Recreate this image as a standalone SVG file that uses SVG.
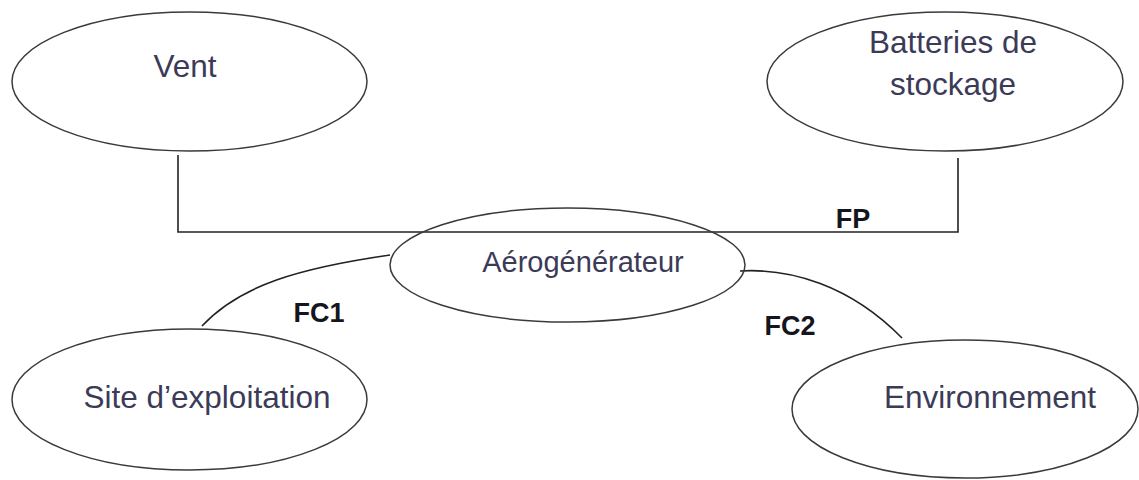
<svg xmlns="http://www.w3.org/2000/svg" width="1139" height="480" viewBox="0 0 1139 480">
<style>
.node ellipse{fill:#fff;stroke:#3a3a3a;stroke-width:1.5}
.lbl{font-family:"Liberation Sans",Arial,sans-serif;font-size:31.5px;fill:#3b3b58;text-anchor:middle}
.conn{fill:none;stroke:#222;stroke-width:1.6}
.fl{font-family:"Liberation Sans",Arial,sans-serif;font-size:27px;font-weight:bold;fill:#151520;text-anchor:middle}
</style>
<rect width="1139" height="480" fill="#fff"/>
<g id="connectors">
<path class="conn" d="M178,155 V232 H958 V158"/>
<path class="conn" d="M202,326 C240,285 300,268 390,255"/>
<path class="conn" d="M740,271 C790,268 850,285 902,338"/>
<text class="fl" x="853" y="228">FP</text>
<text class="fl" x="319" y="322">FC1</text>
<text class="fl" x="790" y="335">FC2</text>
</g>
<g id="vent" class="node">
<ellipse cx="189.5" cy="81.5" rx="177.5" ry="69.5"/>
<text class="lbl" x="185" y="77">Vent</text>
</g>
<g id="batteries" class="node">
<ellipse cx="945" cy="81.5" rx="178" ry="69.5"/>
<text class="lbl" x="953" y="53">Batteries de</text>
<text class="lbl" x="953" y="95">stockage</text>
</g>
<g id="aerogenerateur" class="node">
<ellipse cx="567.5" cy="265" rx="177.5" ry="57" style="fill:none"/>
<text class="lbl" x="583" y="272" style="font-size:29px">Aérogénérateur</text>
</g>
<g id="site" class="node">
<ellipse cx="189.5" cy="399.5" rx="177.5" ry="70.5"/>
<text class="lbl" x="207" y="408">Site d’exploitation</text>
</g>
<g id="environnement" class="node">
<ellipse cx="965" cy="409" rx="173" ry="69"/>
<text class="lbl" x="990" y="408">Environnement</text>
</g>
</svg>
